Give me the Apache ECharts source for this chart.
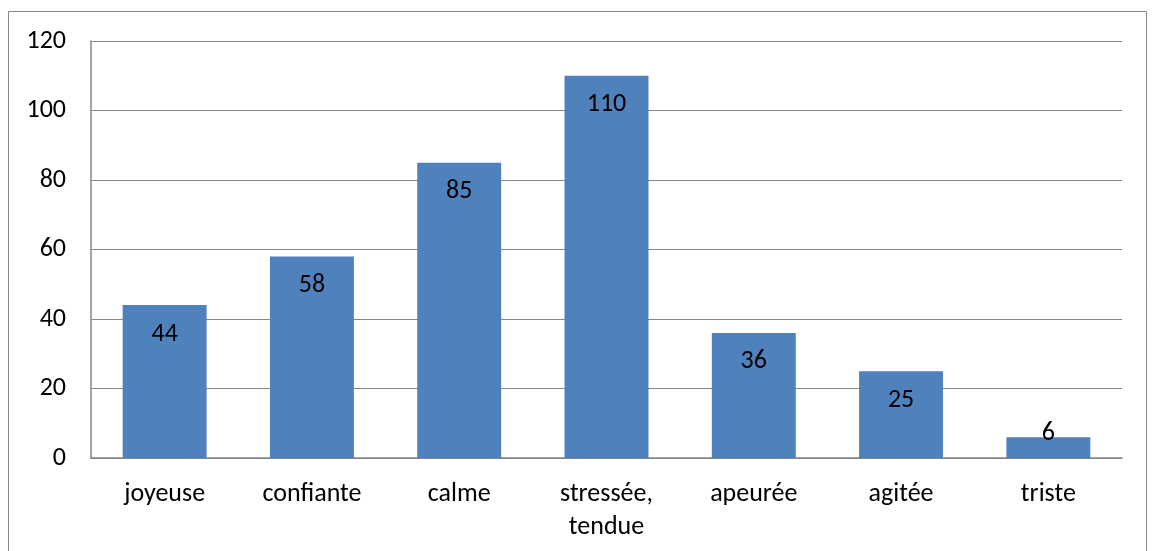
<!DOCTYPE html>
<html>
<head>
<meta charset="utf-8">
<script src="https://cdn.jsdelivr.net/npm/echarts@6/dist/echarts.min.js"></script>
<style>
  html, body { margin: 0; padding: 0; background: #fff; }
  #chart { width: 1152px; height: 551px; }
</style>
</head>
<body>
<div id="chart"></div>
<script>
const categories = ["joyeuse", "confiante", "calme", "stressée,\ntendue", "apeurée", "agitée", "triste"];
const values = [44, 58, 85, 110, 36, 25, 6];
const yTicks = { min: 0, max: 120, interval: 20 };

const font = "Calibri, Carlito, 'Open Sans', 'Liberation Sans', sans-serif";
const axisGrey = "#868686";

const chart = echarts.init(document.getElementById("chart"));

chart.setOption({
    animation: false,
    textStyle: { fontFamily: font },
    graphic: [{
        type: "rect",
        shape: { x: 8.5, y: 11.5, width: 1138, height: 560 },
        style: { fill: "none", stroke: axisGrey, lineWidth: 1 },
        silent: true
    }],
    grid: { left: 91, right: 30, top: 41, bottom: 93 },
    xAxis: {
        type: "category",
        data: categories,
        axisLine: { lineStyle: { color: axisGrey, width: 1.5 } },
        axisTick: { show: false },
        axisLabel: { color: "#000", fontSize: 26, margin: 20, lineHeight: 33, fontFamily: font }
    },
    yAxis: {
        type: "value",
        min: yTicks.min,
        max: yTicks.max,
        interval: yTicks.interval,
        axisLine: { show: true, lineStyle: { color: axisGrey, width: 1.5 } },
        axisTick: { show: false },
        axisLabel: { color: "#000", fontSize: 26, margin: 25, fontFamily: font },
        splitLine: { lineStyle: { color: axisGrey, width: 1.2 } }
    },
    series: [{
        type: "bar",
        barCategoryGap: "43%",
        itemStyle: { color: "#4F81BD" },
        label: {
            show: true,
            position: "insideTop",
            distance: 16,
            color: "#000",
            fontSize: 26,
            fontFamily: font
        },
        // short bars: Excel pushes the label up to sit on the bar
        data: values.map(v => v < 10
            ? { value: v, label: { position: "insideBottom", distance: 12 } }
            : v)
    }]
});
</script>
</body>
</html>
